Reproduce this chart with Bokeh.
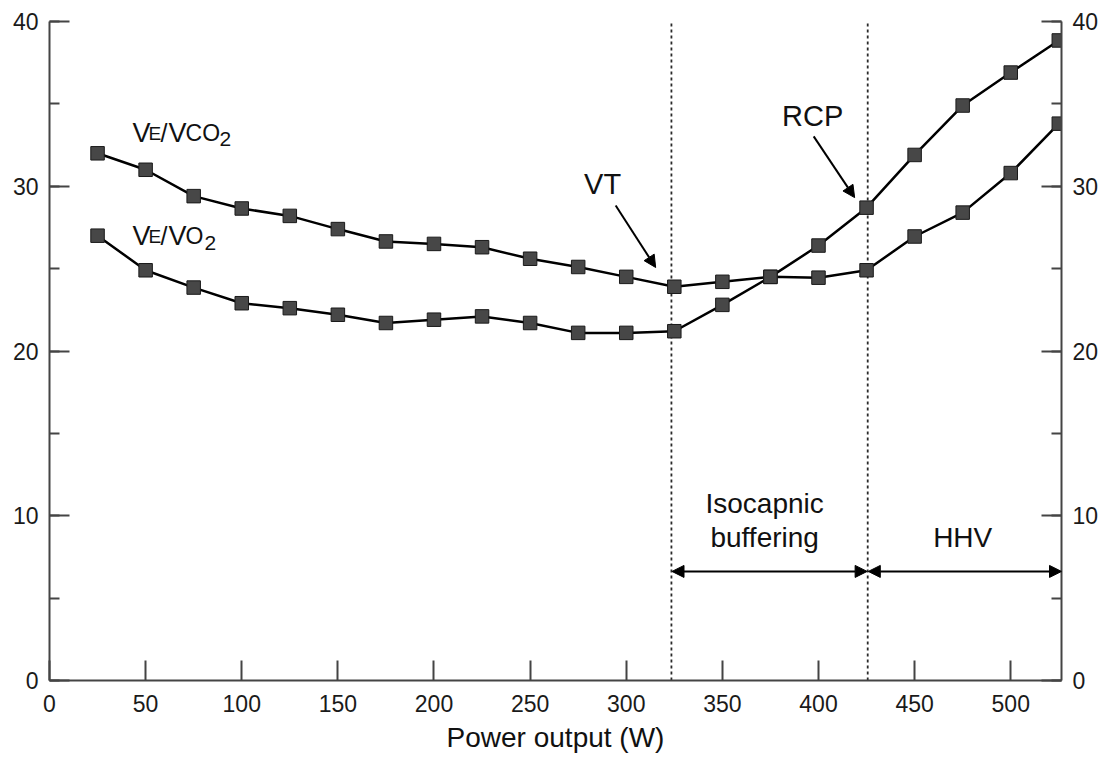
from bokeh.plotting import figure
from bokeh.models import (Range1d, LinearAxis, SingleIntervalTicker, Label, Arrow,
                          NormalHead, ColumnDataSource)
from bokeh.embed import file_html
from bokeh.resources import INLINE

# ---- data ----
power = [25, 50, 75, 100, 125, 150, 175, 200, 225, 250, 275, 300, 325,
         350, 375, 400, 425, 450, 475, 500, 525]
ve_vco2 = [32.0, 31.0, 29.4, 28.65, 28.2, 27.4, 26.65, 26.5, 26.3, 25.6, 25.1, 24.5, 23.9,
           24.2, 24.5, 24.45, 24.9, 26.95, 28.4, 30.8, 33.8]
ve_vo2 = [27.0, 24.9, 23.85, 22.9, 22.6, 22.2, 21.7, 21.9, 22.1, 21.7, 21.1, 21.1, 21.2,
          22.8, 24.5, 26.4, 28.7, 31.9, 34.9, 36.9, 38.85]
vt_power = 323.5
rcp_power = 425.6
x_ticks = [0, 50, 100, 150, 200, 250, 300, 350, 400, 450, 500]

W, H = 1112, 758
FRAME_L, FRAME_R, FRAME_T, FRAME_B = 49, 1061, 21, 680
X_MAX = 526.4

p = figure(width=W, height=H, output_backend="svg", toolbar_location=None,
           x_range=Range1d(0, X_MAX), y_range=Range1d(0, 40),
           min_border_left=FRAME_L, min_border_right=W - FRAME_R,
           min_border_top=FRAME_T, min_border_bottom=H - FRAME_B,
           x_axis_location=None, y_axis_location=None)
p.outline_line_color = None
p.xgrid.visible = False
p.ygrid.visible = False
p.background_fill_color = "white"

AX_COL = "#444444"
FONT = "Liberation Sans"
TICK_FS = "23px"


def style_axis(ax):
    ax.axis_line_color = AX_COL
    ax.axis_line_width = 2
    ax.major_tick_line_color = AX_COL
    ax.major_tick_line_width = 2
    ax.minor_tick_line_color = AX_COL
    ax.minor_tick_line_width = 2
    ax.major_tick_in = 20
    ax.major_tick_out = 0
    ax.minor_tick_in = 10
    ax.minor_tick_out = 0
    ax.major_label_text_font = FONT
    ax.major_label_text_font_size = TICK_FS
    ax.major_label_text_color = "#1a1a1a"


xa = LinearAxis(ticker=x_ticks)
style_axis(xa)
xa.major_label_standoff = 14
xa.axis_label = "Power output (W)"
xa.axis_label_text_font = FONT
xa.axis_label_text_font_size = "28px"
xa.axis_label_text_font_style = "normal"
xa.axis_label_text_color = "#111111"
xa.axis_label_standoff = 7
p.add_layout(xa, "below")

for side in ("left", "right"):
    ya = LinearAxis(ticker=SingleIntervalTicker(interval=10, num_minor_ticks=2))
    style_axis(ya)
    ya.major_label_standoff = 11
    p.add_layout(ya, side)

# dotted threshold lines
for xv in (vt_power, rcp_power):
    p.segment(x0=[xv], y0=[0], x1=[xv], y1=[39.9], line_color="#2a2a2a",
              line_width=1.8, line_dash="3 3")

# data series
for ys in (ve_vco2, ve_vo2):
    src = ColumnDataSource(dict(x=power, y=ys))
    p.line("x", "y", source=src, line_color="black", line_width=2.5)
    p.scatter("x", "y", source=src, marker="square", size=13.5,
              fill_color="#474747", line_color="#1a1a1a", line_width=1)

ANN_FS = "28px"
BASE_SHIFT = 10  # screen px correction so the text baseline sits where it should


def lab(x, y, t, size=ANN_FS, align="center", xo=0, yo=0):
    p.add_layout(Label(x=x, y=y, text=t, text_font=FONT, text_font_size=size,
                       text_align=align, text_baseline="alphabetic",
                       text_color="#111111", x_offset=xo, y_offset=yo + BASE_SHIFT))


# series labels: VE/VCO2 and VE/VO2 (small caps style)
for (yb, parts) in (
        (32.6, [("V", 0, 0, "27px"), ("E", 16, 0, "19px"), ("/", 28, 0, "25px"),
                ("V", 36, 0, "27px"), ("CO", 53, 0, "23px"), ("2", 87, -6, "21px")]),
        (26.36, [("V", 0, 0, "27px"), ("E", 16, 0, "19px"), ("/", 28, 0, "25px"),
                 ("V", 36, 0, "27px"), ("O", 53, 0, "23px"), ("2", 72, -7, "21px")])):
    for t, xo, yo, fs in parts:
        lab(43.2, yb, t, size=fs, align="left", xo=xo, yo=yo)

# VT and RCP annotations
lab(287.7, 29.5, "VT", size="29px")
lab(397.0, 33.63, "RCP", size="29px")
p.add_layout(Arrow(x_start=294.5, y_start=28.83, x_end=315.3, y_end=25.07,
                   line_color="black", line_width=2,
                   end=NormalHead(size=12, fill_color="black", line_color="black")))
p.add_layout(Arrow(x_start=397.5, y_start=33.03, x_end=418.8, y_end=29.31,
                   line_color="black", line_width=2,
                   end=NormalHead(size=12, fill_color="black", line_color="black")))

# zone labels and double arrows
lab(372.0, 10.15, "Isocapnic")
lab(372.0, 8.09, "buffering")
lab(475.0, 8.07, "HHV")
for x0, x1 in ((vt_power + 0.3, rcp_power - 0.3), (rcp_power + 0.3, X_MAX)):
    p.add_layout(Arrow(x_start=x0, y_start=6.62, x_end=x1, y_end=6.62,
                       line_color="black", line_width=2,
                       start=NormalHead(size=12, fill_color="black", line_color="black"),
                       end=NormalHead(size=12, fill_color="black", line_color="black")))

open("out.html", "w").write(file_html(p, INLINE))
